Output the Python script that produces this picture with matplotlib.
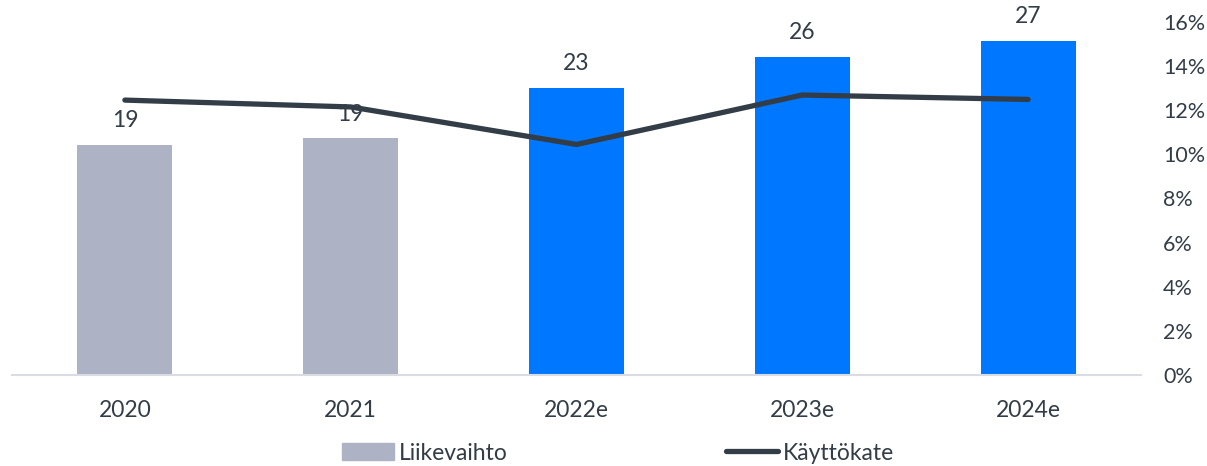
import matplotlib
matplotlib.use("Agg")
import matplotlib.pyplot as plt
from matplotlib.ticker import FuncFormatter, MultipleLocator
from matplotlib.patches import Patch
from matplotlib.lines import Line2D

categories = ["2020", "2021", "2022e", "2023e", "2024e"]
liikevaihto = [18.6, 19.1, 23.2, 25.7, 27.0]
liikevaihto_labels = ["19", "19", "23", "26", "27"]
kayttokate = [12.46, 12.15, 10.45, 12.69, 12.49]
bar_colors = ["#adb3c5", "#adb3c5", "#0077ff", "#0077ff", "#0077ff"]

plt.rcParams['font.family'] = ['Lato', 'DejaVu Sans']
text_color = "#333d47"
fs = 16.5

W, H = 1207, 466
fig = plt.figure(figsize=(W / 100, H / 100), dpi=100)
ax = fig.add_axes([12 / W, (H - 375) / H, (1141 - 12) / W, (375 - 22) / H])

x = list(range(len(categories)))
ax.bar(x, liikevaihto, width=0.42, color=bar_colors, label="Liikevaihto", zorder=2)
ax.set_ylim(0, 28.5)
ax.set_xlim(-0.5, len(categories) - 0.5)
ax.set_yticks([])
for s in ["left", "right", "top"]:
    ax.spines[s].set_visible(False)
ax.spines["bottom"].set_color("#d9dde3")
ax.spines["bottom"].set_linewidth(1.5)
ax.set_xticks(x)
ax.set_xticklabels(categories, fontsize=fs, color=text_color)
ax.tick_params(axis="x", length=0, pad=18)

for xi, v, lab in zip(x, liikevaihto, liikevaihto_labels):
    ax.annotate(lab, (xi, v), xytext=(0, 10), textcoords="offset points",
                ha="center", va="bottom", fontsize=fs, color=text_color, zorder=1)

ax2 = ax.twinx()
ax2.plot(x, kayttokate, color="#333d47", linewidth=3.8, solid_capstyle="round",
         label="Käyttökate", zorder=3)
ax2.set_ylim(0, 16)
ax2.yaxis.set_major_locator(MultipleLocator(2))
ax2.yaxis.set_major_formatter(FuncFormatter(lambda v, p: f"{v:.0f}%"))
ax2.tick_params(axis="y", length=0, pad=16, labelsize=15.5, labelcolor=text_color)
for s in ["left", "right", "top", "bottom"]:
    ax2.spines[s].set_visible(False)

handles = [Patch(color="#adb3c5"),
           Line2D([0], [0], color="#333d47", linewidth=3.8, solid_capstyle="round")]
fig.legend(handles, ["Liikevaihto", "Käyttökate"], loc="center",
           bbox_to_anchor=(618 / W, 1 - 453 / H), ncol=2, frameon=False,
           fontsize=fs, labelcolor=text_color, handlelength=2.3, handleheight=0.7,
           handletextpad=0.2, columnspacing=9.5)

fig.savefig("out.png", dpi=100)
